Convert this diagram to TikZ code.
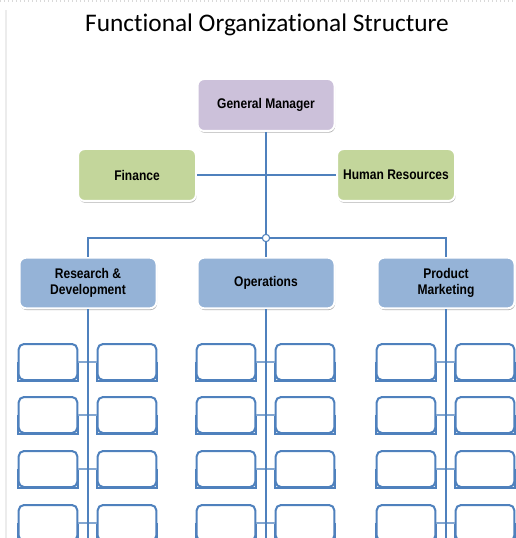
\documentclass[tikz,border=0pt]{standalone}
\usepackage{fontspec}
\setmainfont{Carlito}[Ligatures=NoCommon]
\newfontfamily\boxfont{Liberation Sans}[FakeStretch=0.86]
\usetikzlibrary{positioning,shadows}

\definecolor{orgLine}{HTML}{4F81BD}
\definecolor{orgLilac}{HTML}{CCC1DA}
\definecolor{orgGreen}{HTML}{C3D69B}
\definecolor{orgBlue}{HTML}{95B3D7}

\tikzset{
  orgbox/.style={draw=white, line width=1.5pt, rounded corners=5pt,
    minimum width=102.75pt, minimum height=39pt, align=center, text=black,
    font=\boxfont\bfseries\fontsize{10.5}{12.5}\selectfont,
    drop shadow={shadow xshift=0.5pt, shadow yshift=-1.3pt, fill=black, opacity=0.3}},
  staffbox/.style={orgbox, fill=orgGreen, minimum width=88.5pt},
  deptbox/.style={orgbox, fill=orgBlue, minimum height=38pt},
  unitedge/.style={sharp corners, draw=orgLine, fill=white, line width=1.5pt},
  % rounded on top, square at the bottom
  unitbox/.style={draw=orgLine, line width=1.5pt, fill=white, rounded corners=4pt,
    minimum width=44pt, minimum height=27pt, inner sep=0pt,
    append after command={\pgfextra{\filldraw[unitedge] (\tikzlastnode.west) |- (\tikzlastnode.south) -| (\tikzlastnode.east);}}},
  orgline/.style={draw=orgLine, line width=0.9pt},
  unitline/.style={draw=orgLine!70, line width=0.9pt},
  hub/.style={circle, draw=orgLine, fill=white, line width=0.8pt, inner sep=0pt, minimum size=5.5pt}
}

\begin{document}
\begin{tikzpicture}[x=0.75pt, y=-0.75pt]
  \useasboundingbox (0,0) rectangle (516,538);
  \clip (0,0) rectangle (516,538);

  % page edges
  \draw[gray!30, dotted, line width=1pt] (0,1) -- (516,1);
  \draw[gray!15, line width=1pt] (6,10) -- (6,538);

  % Title
  \node[font=\fontsize{19}{22}\selectfont] (title) at (267,25) {Functional Organizational Structure};

  % Top level and staff
  \node[orgbox, fill=orgLilac] (gm) at (266,105) {General Manager};
  \node[staffbox] (fin) at (137,175) {Finance};
  \node[staffbox] (hr) at (396,175) {Human Resources};
  \node[hub] (hub) at (266,238) {};

  \draw[orgline] (gm) -- (hub);
  \draw[orgline] (fin) -- (hr);

  % Departments
  \node[deptbox] (rnd) at (88,283) {Research \&\\Development};
  \node[deptbox] (ops) at (266,283) {Operations};
  \node[deptbox] (pm) at (446,283) {Product\\Marketing};

  \draw[orgline] (hub) -| (rnd);
  \draw[orgline] (hub) -- (ops);
  \draw[orgline] (hub) -| (pm);

  % Units under each department
  \foreach \name/\x in {rnd/88, ops/266, pm/446} {
    \foreach \row/\y in {1/362, 2/415, 3/469, 4/523} {
      \node[unitbox] (\name-l\row) at (\x-40,\y) {};
      \node[unitbox] (\name-r\row) at (\x+39,\y) {};
      \draw[unitline] (\name-l\row) -- (\name-r\row);
    }
    \coordinate (\name-end) at (\x,540);
    \draw[orgline] (\name) -- (\name-end);
  }
\end{tikzpicture}
\end{document}
